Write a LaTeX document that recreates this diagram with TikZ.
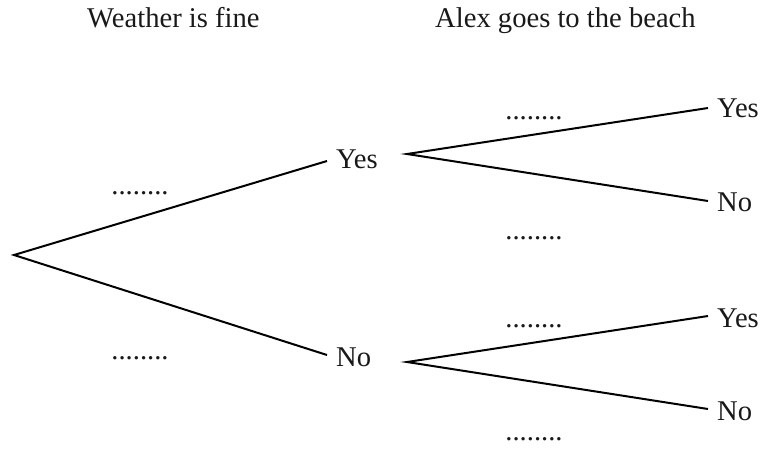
\documentclass[tikz,border=0pt]{standalone}
\usepackage{fontspec}
\setmainfont{Liberation Serif}
\begin{document}
\begin{tikzpicture}[x=1pt,y=-1pt,
  lbl/.style={font=\fontsize{28.6}{34}\selectfont, inner sep=0pt, text=black!90},
  branch/.style={line width=2pt, line join=miter}]
\useasboundingbox (0,0) rectangle (765,448);
% headers
\node[lbl, anchor=base west] (h1) at (87,27) {Weather is fine};
\node[lbl, anchor=base west] (h2) at (435,27) {Alex goes to the beach};
% first stage
\coordinate (root) at (14,255);
\node[lbl, anchor=base west] (yes1) at (336,168) {Yes};
\node[lbl, anchor=base west] (no1) at (336,366) {No};
\coordinate (yes1in) at (327,161);
\coordinate (no1in) at (327,355);
\draw[branch] (yes1in) -- (root) -- (no1in);
\node[lbl, anchor=base] (p1) at (140,194) {........};
\node[lbl, anchor=base] (p2) at (140,359) {........};
% second stage, upper
\coordinate (yes1out) at (407,154);
\node[lbl, anchor=base west] (yy) at (717,117) {Yes};
\node[lbl, anchor=base west] (yn) at (717,211) {No};
\coordinate (yyin) at (708,108);
\coordinate (ynin) at (708,201);
\draw[branch] (yyin) -- (yes1out) -- (ynin);
\node[lbl, anchor=base] (p3) at (534,119) {........};
\node[lbl, anchor=base] (p4) at (534,239) {........};
% second stage, lower
\coordinate (no1out) at (407,362);
\node[lbl, anchor=base west] (ny) at (717,327) {Yes};
\node[lbl, anchor=base west] (nn) at (717,420) {No};
\coordinate (nyin) at (708,316);
\coordinate (nnin) at (708,409);
\draw[branch] (nyin) -- (no1out) -- (nnin);
\node[lbl, anchor=base] (p5) at (534,327) {........};
\node[lbl, anchor=base] (p6) at (534,440) {........};
\end{tikzpicture}
\end{document}
